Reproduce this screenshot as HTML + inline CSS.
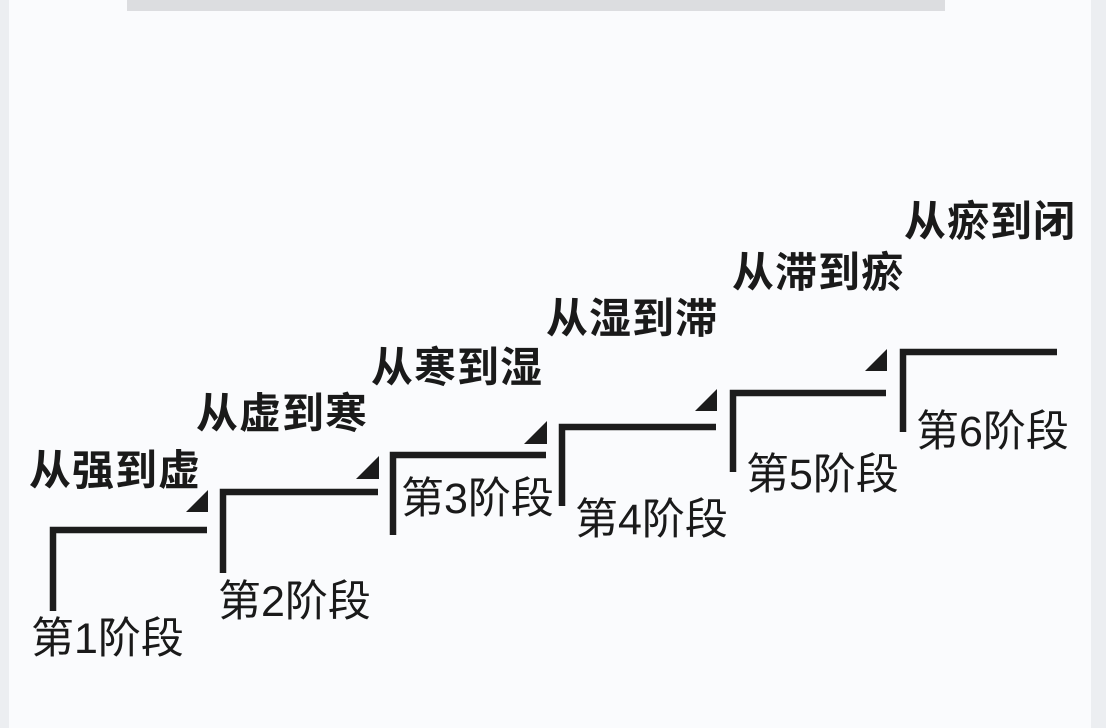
<!DOCTYPE html>
<html><head><meta charset="utf-8"><style>
html,body{margin:0;padding:0;background:#fff;}
svg{display:block;}
text{font-family:"Liberation Sans","Noto Sans CJK SC",sans-serif;fill:#1a1a1a;}
.t{font-weight:bold;font-size:42px;letter-spacing:1px;}
.s{font-size:43px;}
</style></head><body>
<svg width="1106" height="728" xmlns="http://www.w3.org/2000/svg">
<rect x="0" y="0" width="1106" height="728" fill="#fafbfd"/>
<rect x="0" y="0" width="9" height="728" fill="#eceef1"/>
<rect x="1091" y="0" width="15" height="728" fill="#eceef1"/>
<rect x="127" y="0" width="818" height="11" fill="#dcdde0"/>
<g fill="none" stroke="#1c1c1c" stroke-width="6.5">
<path d="M53 611 V530 H207"/>
<path d="M223 573 V492 H378"/>
<path d="M393 535 V455 H546"/>
<path d="M562 506 V427 H716"/>
<path d="M733 472 V393 H886"/>
<path d="M903 432 V352 H1057"/>
</g>
<g fill="#1c1c1c">
<polygon points="186,512 208,512 208,490"/>
<polygon points="356,479 379,479 379,456"/>
<polygon points="524,444 547,444 547,421"/>
<polygon points="695,411 717,411 717,389"/>
<polygon points="865,371 887,371 887,349"/>
</g>
<text class="t" x="29" y="485">从强到虚</text>
<text class="t" x="196" y="428">从虚到寒</text>
<text class="t" x="371" y="382">从寒到湿</text>
<text class="t" x="546" y="333">从湿到滞</text>
<text class="t" x="732" y="287">从滞到瘀</text>
<text class="t" x="904" y="236">从瘀到闭</text>
<text class="s" x="31" y="653">第1阶段</text>
<text class="s" x="218" y="616">第2阶段</text>
<text class="s" x="401" y="513">第3阶段</text>
<text class="s" x="575" y="534">第4阶段</text>
<text class="s" x="746" y="489">第5阶段</text>
<text class="s" x="916" y="446">第6阶段</text>
</svg>
</body></html>
